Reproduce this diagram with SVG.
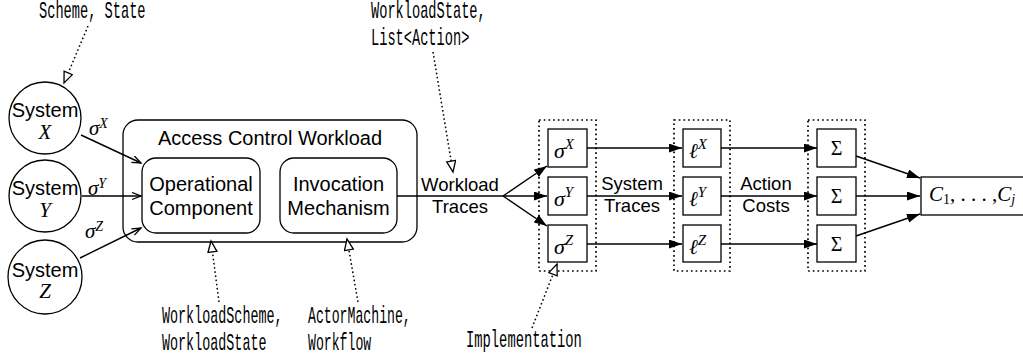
<svg xmlns="http://www.w3.org/2000/svg" width="1023" height="358" viewBox="0 0 1023 358">
  <style>
    .sans { font-family: "Liberation Sans", Arial, sans-serif; fill: #000; }
    .lbl { font-size: 20px; text-anchor: middle; }
    .clbl { font-size: 18.5px; text-anchor: middle; }
    .mono { font-family: "Liberation Mono", "DejaVu Sans Mono", monospace; font-size: 23px; fill: #000; }
    .math { font-family: "Liberation Serif", "DejaVu Serif", serif; font-style: italic; fill: #000; }
    .up { font-style: normal; }
    .shape { fill: #fff; stroke: #000; stroke-width: 1.3; }
    .group { fill: none; stroke: #000; stroke-width: 1.7; stroke-dasharray: 1.7 3; }
    .flow { fill: none; stroke: #000; stroke-width: 1.4; }
    .note { fill: none; stroke: #000; stroke-width: 1.5; stroke-dasharray: 1.6 2.6; }
  </style>
  <defs>
    <marker id="vee" markerUnits="userSpaceOnUse" markerWidth="12" markerHeight="10" refX="10" refY="4" orient="auto">
      <path d="M1,0.5 L10,4 L1,7.5" fill="none" stroke="#000" stroke-width="1.3"/>
    </marker>
    <marker id="solid" markerUnits="userSpaceOnUse" markerWidth="14" markerHeight="10" refX="13" refY="4.5" orient="auto">
      <path d="M0,0 L13,4.5 L0,9 z" fill="#000"/>
    </marker>
    <marker id="hollow" markerUnits="userSpaceOnUse" markerWidth="14" markerHeight="12" refX="12" refY="5" orient="auto">
      <path d="M1,0.5 L12,5 L1,9.5 z" fill="#fff" stroke="#000" stroke-width="1.3"/>
    </marker>
  </defs>

  <!-- systems -->
  <g id="system-x">
    <circle class="shape" cx="45" cy="118" r="36"/>
    <text class="sans lbl" x="45" y="117">System</text>
    <text class="math" x="45" y="139" font-size="21" text-anchor="middle">X</text>
  </g>
  <g id="system-y">
    <circle class="shape" cx="45" cy="196" r="36"/>
    <text class="sans lbl" x="45" y="195">System</text>
    <text class="math" x="45" y="217" font-size="21" text-anchor="middle">Y</text>
  </g>
  <g id="system-z">
    <circle class="shape" cx="45" cy="277" r="37"/>
    <text class="sans lbl" x="45" y="277">System</text>
    <text class="math" x="45" y="298" font-size="21" text-anchor="middle">Z</text>
  </g>

  <!-- workload -->
  <g id="workload">
    <rect class="shape" x="123" y="120" width="294" height="122" rx="15"/>
    <text class="sans lbl" x="270" y="145">Access Control Workload</text>
  </g>
  <g id="operational">
    <rect class="shape" x="142" y="158" width="118" height="75" rx="14"/>
    <text class="sans lbl" x="201" y="191">Operational</text>
    <text class="sans lbl" x="201" y="215">Component</text>
  </g>
  <g id="invocation">
    <rect class="shape" x="280" y="158" width="117" height="75" rx="14"/>
    <text class="sans lbl" x="338.5" y="191">Invocation</text>
    <text class="sans lbl" x="338.5" y="215">Mechanism</text>
  </g>

  <!-- implementations -->
  <g id="implementations">
    <rect class="group" x="539" y="120" width="57" height="151"/>
    <rect class="shape" x="548" y="129" width="39" height="38"/>
    <rect class="shape" x="548" y="177" width="39" height="38"/>
    <rect class="shape" x="548" y="225" width="39" height="37"/>
    <g class="math">
      <text x="554" y="158" font-size="22">σ<tspan font-size="15" dy="-9">X</tspan></text>
      <text x="554" y="206" font-size="22">σ<tspan font-size="15" dy="-9">Y</tspan></text>
      <text x="554" y="254" font-size="22">σ<tspan font-size="15" dy="-9">Z</tspan></text>
    </g>
  </g>

  <!-- costs -->
  <g id="costs">
    <rect class="group" x="674" y="120" width="56" height="151"/>
    <rect class="shape" x="683" y="129" width="38" height="38"/>
    <rect class="shape" x="683" y="177" width="38" height="38"/>
    <rect class="shape" x="683" y="225" width="38" height="37"/>
    <g class="math">
      <text x="689" y="158" font-size="21">ℓ<tspan font-size="15" dy="-9">X</tspan></text>
      <text x="689" y="206" font-size="21">ℓ<tspan font-size="15" dy="-9">Y</tspan></text>
      <text x="689" y="254" font-size="21">ℓ<tspan font-size="15" dy="-9">Z</tspan></text>
    </g>
  </g>

  <!-- sums -->
  <g id="sums">
    <rect class="group" x="808" y="120" width="57" height="151"/>
    <rect class="shape" x="817" y="129" width="39" height="38"/>
    <rect class="shape" x="817" y="177" width="39" height="38"/>
    <rect class="shape" x="817" y="225" width="39" height="37"/>
    <g font-family="Liberation Serif, DejaVu Serif, serif" font-size="20" text-anchor="middle">
      <text x="836.5" y="155">Σ</text>
      <text x="836.5" y="203">Σ</text>
      <text x="836.5" y="251">Σ</text>
    </g>
  </g>

  <!-- result -->
  <g id="result">
    <rect class="shape" x="921" y="177" width="110" height="38"/>
    <text class="math" x="929" y="201" font-size="21">C<tspan class="up" font-size="14" dy="3">1</tspan><tspan class="up" dy="-3">, . . . ,</tspan>C<tspan font-size="14" dy="3">j</tspan></text>
  </g>

  <!-- connectors -->
  <g id="connectors">
    <line class="flow" x1="81" y1="135" x2="141" y2="163" marker-end="url(#vee)"/>
    <line class="flow" x1="82" y1="196" x2="141" y2="196" marker-end="url(#vee)"/>
    <line class="flow" x1="80" y1="258" x2="141" y2="228" marker-end="url(#vee)"/>

    <polyline class="flow" points="397,196 503,196"/>
    <line class="flow" x1="503" y1="196" x2="547" y2="166" marker-end="url(#solid)"/>
    <line class="flow" x1="503" y1="196" x2="547" y2="196" marker-end="url(#solid)"/>
    <line class="flow" x1="503" y1="196" x2="547" y2="226" marker-end="url(#solid)"/>

    <line class="flow" x1="587" y1="148" x2="682" y2="148" marker-end="url(#solid)"/>
    <line class="flow" x1="587" y1="196" x2="682" y2="196" marker-end="url(#solid)"/>
    <line class="flow" x1="587" y1="244" x2="682" y2="244" marker-end="url(#solid)"/>

    <line class="flow" x1="721" y1="148" x2="817" y2="148" marker-end="url(#solid)"/>
    <line class="flow" x1="721" y1="196" x2="817" y2="196" marker-end="url(#solid)"/>
    <line class="flow" x1="721" y1="244" x2="817" y2="244" marker-end="url(#solid)"/>

    <line class="flow" x1="856" y1="156" x2="920" y2="178" marker-end="url(#solid)"/>
    <line class="flow" x1="856" y1="196" x2="920" y2="196" marker-end="url(#solid)"/>
    <line class="flow" x1="856" y1="236" x2="920" y2="214" marker-end="url(#solid)"/>

    <!-- dotted annotation pointers -->
    <line class="note" x1="88" y1="26" x2="64" y2="83" marker-end="url(#hollow)"/>
    <line class="note" x1="433" y1="52" x2="453" y2="172" marker-end="url(#hollow)"/>
    <line class="note" x1="219" y1="302" x2="211" y2="241" marker-end="url(#hollow)"/>
    <line class="note" x1="358" y1="302" x2="347" y2="239" marker-end="url(#hollow)"/>
    <line class="note" x1="532" y1="328" x2="557" y2="264" marker-end="url(#hollow)"/>

    <!-- edge labels -->
    <g class="sans clbl">
      <text x="460" y="191">Workload</text>
      <text x="460" y="213">Traces</text>
      <text x="632" y="190">System</text>
      <text x="632" y="212">Traces</text>
      <text x="766" y="190">Action</text>
      <text x="766" y="212">Costs</text>
    </g>
    <g class="math">
      <text x="89" y="135" font-size="21">σ<tspan font-size="14" dy="-7">X</tspan></text>
      <text x="88" y="195" font-size="21">σ<tspan font-size="14" dy="-7">Y</tspan></text>
      <text x="85" y="238" font-size="21">σ<tspan font-size="14" dy="-7">Z</tspan></text>
    </g>
  </g>

  <!-- annotations: condensed typewriter text -->
  <g id="annotations" class="mono">
    <text transform="translate(39,18) scale(0.594,1)">Scheme, State</text>
    <text transform="translate(371,18) scale(0.594,1)">WorkloadState,</text>
    <text transform="translate(371,45) scale(0.594,1)">List&lt;Action&gt;</text>
    <text transform="translate(162,323) scale(0.583,1)">WorkloadScheme,</text>
    <text transform="translate(162,350) scale(0.583,1)">WorkloadState</text>
    <text transform="translate(308,323) scale(0.573,1)">ActorMachine,</text>
    <text transform="translate(308,350) scale(0.573,1)">Workflow</text>
    <text transform="translate(466,347) scale(0.6,1)">Implementation</text>
  </g>
</svg>
